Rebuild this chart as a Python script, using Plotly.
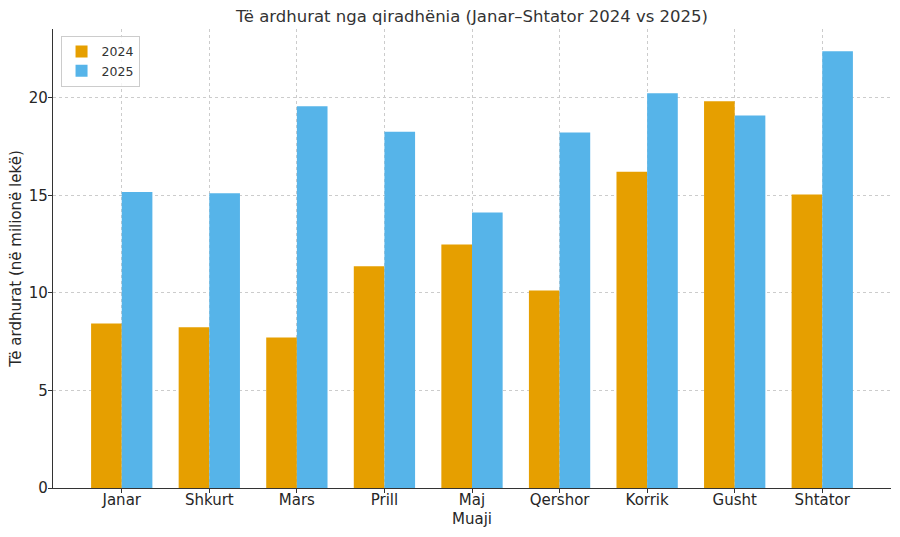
import plotly.graph_objects as go

# monthly rental income, millions of lek
months = ["Janar", "Shkurt", "Mars", "Prill", "Maj", "Qershor", "Korrik", "Gusht", "Shtator"]
income_2024 = [8.43, 8.24, 7.71, 11.37, 12.48, 10.12, 16.21, 19.82, 15.05]
income_2025 = [15.18, 15.11, 19.57, 18.26, 14.12, 18.22, 20.24, 19.10, 22.39]

font_name = "DejaVu Sans"
text_color = "#262626"

fig = go.Figure()
fig.add_trace(go.Bar(x=months, y=income_2024, name="2024", marker=dict(color="#E69F00", line_width=0)))
fig.add_trace(go.Bar(x=months, y=income_2025, name="2025", marker=dict(color="#56B4E9", line_width=0)))

fig.update_layout(
    width=900, height=537,
    margin=dict(l=53, r=9, t=29, b=49, autoexpand=False),
    paper_bgcolor="white", plot_bgcolor="white",
    font=dict(family=font_name, size=15, color=text_color),
    barmode="group", bargap=0.3, bargroupgap=0,
    title=dict(text="Të ardhurat nga qiradhënia (Janar–Shtator 2024 vs 2025)",
               x=0.5, xref="paper", xanchor="center", y=0.97, yanchor="middle",
               font=dict(size=16.5, color="#333333")),
    legend=dict(x=0.009, y=0.985, xanchor="left", yanchor="top",
                bgcolor="rgba(255,255,255,0.8)", bordercolor="#cccccc", borderwidth=1,
                font=dict(size=12.5, color="#333333"), itemwidth=30, tracegroupgap=0),
)

fig.update_xaxes(
    range=[-0.785, 8.785], automargin=False,
    showline=True, linecolor="#333333", linewidth=1.2,
    ticks="outside", ticklen=4, tickcolor="#333333", ticklabelstandoff=-6,
    showgrid=True, gridcolor="#cccccc", griddash="dot", gridwidth=1,
    title=dict(text="Muaji", standoff=5, font=dict(size=15)),
    tickfont=dict(size=15),
)
fig.update_yaxes(
    range=[0, 23.53], automargin=False,
    tickvals=[0, 5, 10, 15, 20],
    showline=True, linecolor="#333333", linewidth=1.2,
    ticks="outside", ticklen=4, tickcolor="#333333", ticklabelstandoff=-3,
    showgrid=True, gridcolor="#cccccc", griddash="dot", gridwidth=1,
    zeroline=False,
    title=dict(text="Të ardhurat (në milionë lekë)", standoff=3, font=dict(size=15)),
    tickfont=dict(size=15),
)

# the page has a default 8px body margin; drop it so the figure sits at the corner
fig.write_html("out.html", config={"displayModeBar": False},
               post_script="document.body.style.margin='0';")
